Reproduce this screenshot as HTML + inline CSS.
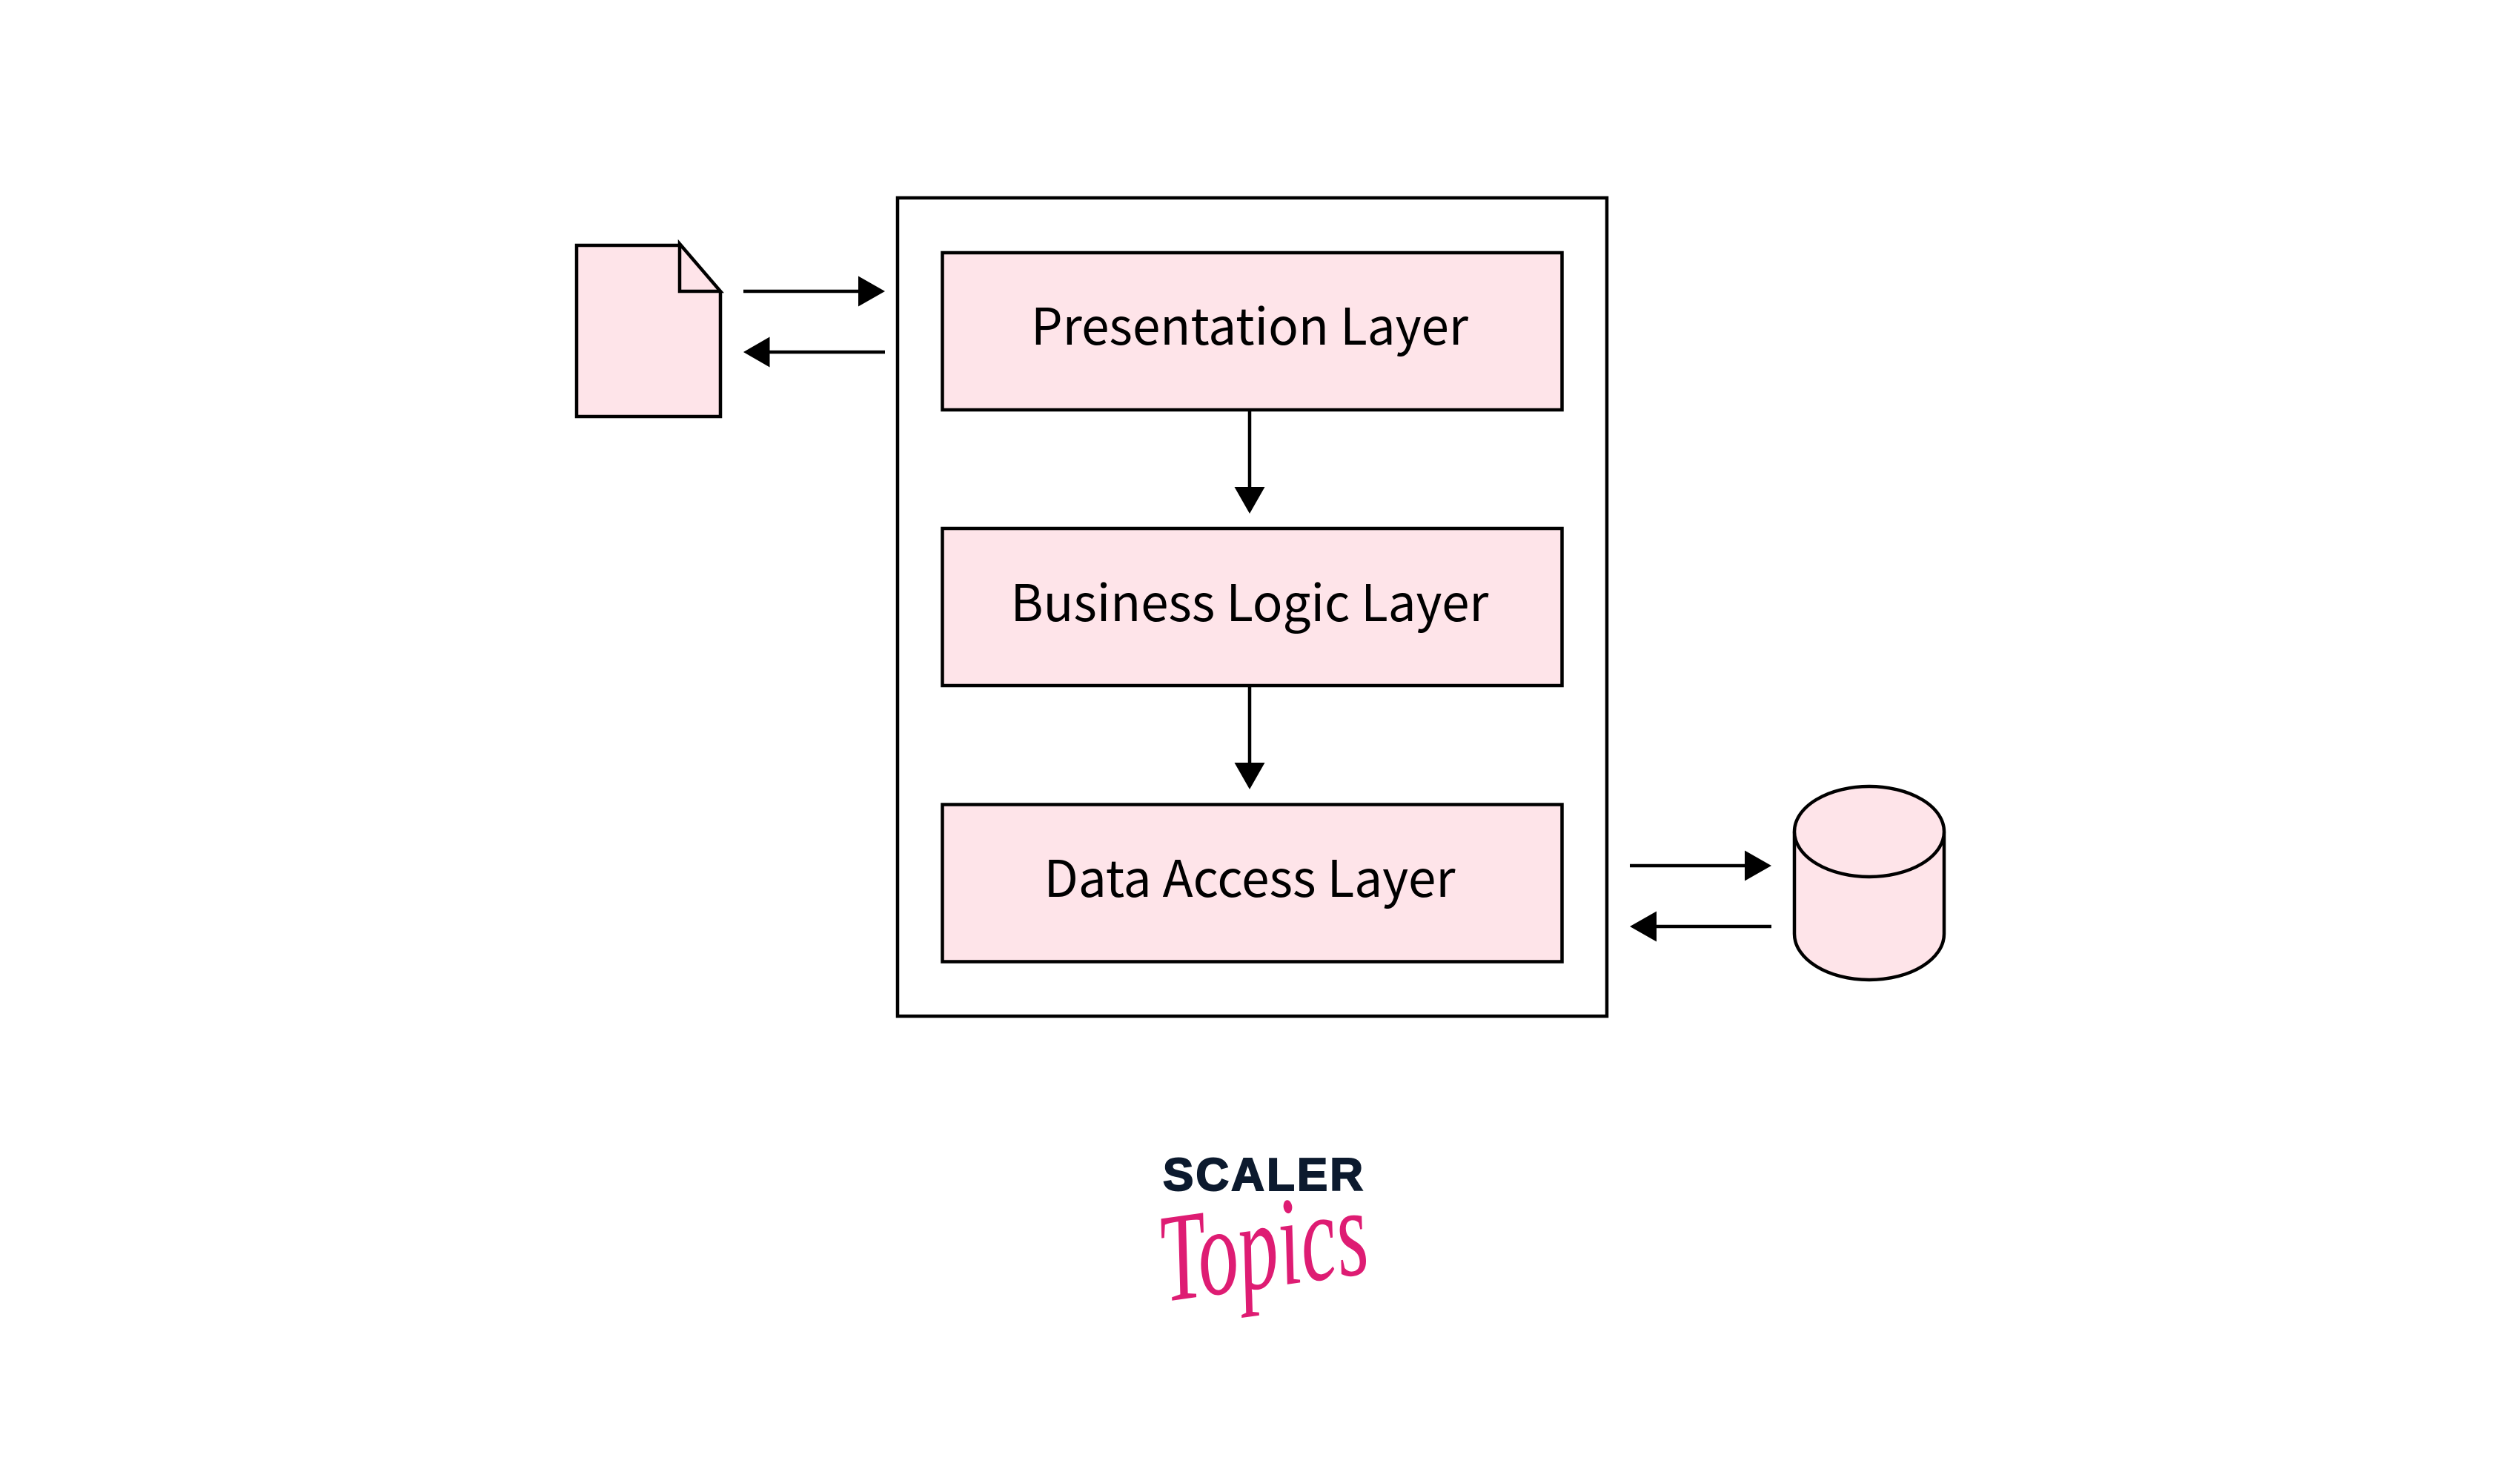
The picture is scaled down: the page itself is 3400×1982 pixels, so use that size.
<!DOCTYPE html>
<html>
<head>
<meta charset="utf-8">
<style>
html,body{margin:0;padding:0;background:#fff;width:3400px;height:1982px;overflow:hidden}
svg{display:block}
.l{font-family:"Noto Sans CJK JP","Liberation Sans",sans-serif;font-size:68px;fill:#000;text-anchor:middle}
</style>
</head>
<body>
<svg width="3400" height="1982" viewBox="0 0 3400 1982" xmlns="http://www.w3.org/2000/svg">
<rect width="3400" height="1982" fill="#fff"/>
<rect x="1211" y="267" width="957" height="1104" fill="#fff" stroke="#000" stroke-width="4.5"/>
<g fill="#fee4e9" stroke="#000" stroke-width="4.5">
<rect x="1271.5" y="341" width="836" height="212"/>
<rect x="1271.5" y="713" width="836" height="212"/>
<rect x="1271.5" y="1085.500" width="836" height="212"/>
<path d="M778 331H917L972 394V562H778Z"/>
<path d="M917 329V393H972Z"/>
<path d="M2421 1122V1260C2421 1294 2466 1322 2522 1322C2578 1322 2623 1294 2623 1260V1122"/>
<ellipse cx="2522" cy="1122" rx="101" ry="61"/>
</g>
<text class="l" x="1686" y="465" textLength="590" lengthAdjust="spacingAndGlyphs">Presentation Layer</text>
<text class="l" x="1686" y="838" textLength="645" lengthAdjust="spacingAndGlyphs">Business Logic Layer</text>
<text class="l" x="1686" y="1210" textLength="555" lengthAdjust="spacingAndGlyphs">Data Access Layer</text>
<g stroke="#000" stroke-width="4.500" fill="none">
<path d="M1003 393H1160"/>
<path d="M1194 475H1036"/>
<path d="M1686 553V660"/>
<path d="M1686 925V1032"/>
<path d="M2199 1168H2357"/>
<path d="M2390 1250H2232"/>
</g>
<g fill="#000">
<path d="M1158 372.500L1194 393L1158 413.500Z"/>
<path d="M1038.500 454.500L1003 475L1038.500 495.500Z"/>
<path d="M1665.500 657H1706.500L1686 693Z"/>
<path d="M1665.500 1029H1706.500L1686 1065Z"/>
<path d="M2354 1147.500L2390 1168L2354 1188.500Z"/>
<path d="M2235 1229.500L2199 1250L2235 1270.500Z"/>
</g>
<text x="1569" y="1606" textLength="270" lengthAdjust="spacing" font-family="Liberation Sans" font-weight="700" font-size="62" fill="#0c1a2e" stroke="#0c1a2e" stroke-width="2">SCALER</text>
<text transform="translate(1572 1756) rotate(-8)" textLength="282" lengthAdjust="spacingAndGlyphs" font-family="Liberation Serif" font-style="italic" font-size="170" fill="#de1c73">Topics</text>
</svg>
</body>
</html>
